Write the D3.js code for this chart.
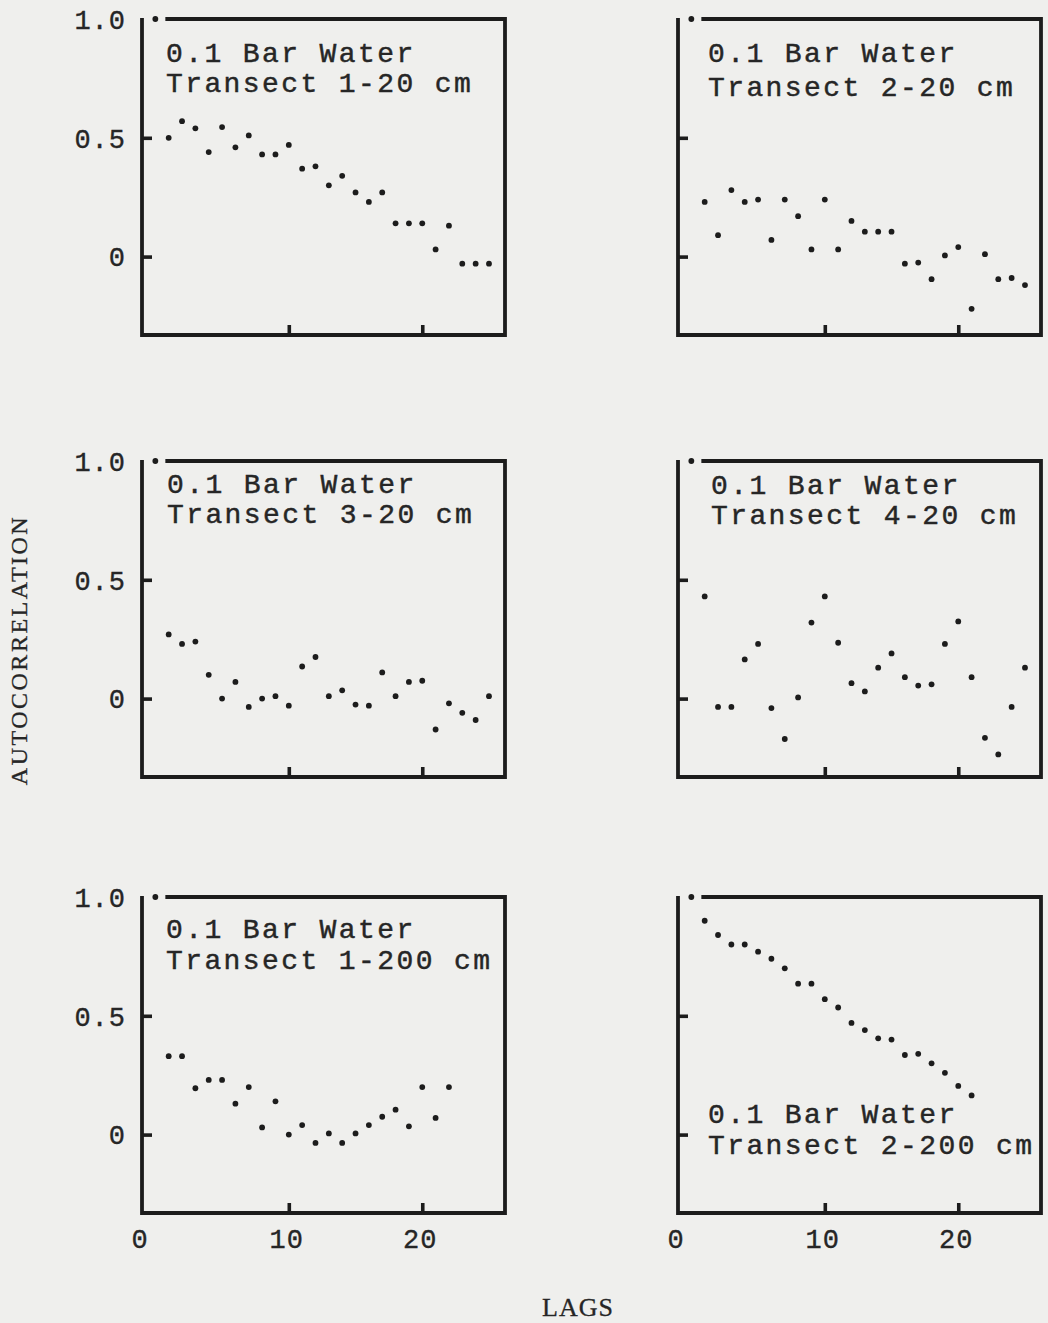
<!DOCTYPE html>
<html>
<head>
<meta charset="utf-8">
<script src="https://cdn.jsdelivr.net/npm/d3@7/dist/d3.min.js"></script>
<style>
  html, body { margin: 0; padding: 0; background: #efefed; }
  svg { display: block; }
  .title { font-family: "Liberation Mono", "DejaVu Sans Mono", monospace; font-size: 28px; letter-spacing: 2.4px; fill: #262626; stroke: #262626; stroke-width: 0.45px; }
  .tick-label { font-family: "Liberation Mono", "DejaVu Sans Mono", monospace; font-size: 27px; letter-spacing: 1px; fill: #262626; stroke: #262626; stroke-width: 0.35px; }
  .axis-title { font-family: "Liberation Serif", "DejaVu Serif", serif; font-size: 24px; letter-spacing: 2.5px; fill: #262626; stroke: #262626; stroke-width: 0.3px; }
</style>
</head>
<body>
<svg id="chart" width="1048" height="1323"></svg>
<script>
// Autocorrelation by lag (lag 0 first) for each 0.1 bar water transect
const lagsTransect1_20 = [1.0, 0.50, 0.57, 0.54, 0.44, 0.545, 0.46, 0.51, 0.43, 0.43, 0.47, 0.37, 0.38, 0.30, 0.34, 0.27, 0.23, 0.27, 0.14, 0.14, 0.14, 0.03, 0.13, -0.03, -0.03, -0.03];
const lagsTransect2_20 = [1.0, 0.23, 0.09, 0.28, 0.23, 0.24, 0.07, 0.24, 0.17, 0.03, 0.24, 0.03, 0.15, 0.105, 0.105, 0.105, -0.03, -0.025, -0.095, 0.005, 0.04, -0.22, 0.01, -0.095, -0.09, -0.12];
const lagsTransect3_20 = [1.0, 0.27, 0.23, 0.24, 0.10, 0.0, 0.07, -0.035, 0.0, 0.01, -0.03, 0.135, 0.175, 0.01, 0.035, -0.025, -0.03, 0.11, 0.01, 0.07, 0.075, -0.13, -0.02, -0.06, -0.09, 0.01];
const lagsTransect4_20 = [1.0, 0.43, -0.035, -0.035, 0.165, 0.23, -0.04, -0.17, 0.005, 0.32, 0.43, 0.235, 0.065, 0.03, 0.13, 0.19, 0.09, 0.055, 0.06, 0.23, 0.325, 0.09, -0.165, -0.235, -0.035, 0.13];
const lagsTransect1_200 = [1.0, 0.33, 0.33, 0.195, 0.23, 0.23, 0.13, 0.20, 0.03, 0.14, 0.0, 0.04, -0.035, 0.005, -0.035, 0.005, 0.04, 0.075, 0.105, 0.035, 0.20, 0.07, 0.20];
const lagsTransect2_200 = [1.0, 0.90, 0.84, 0.80, 0.80, 0.77, 0.74, 0.70, 0.635, 0.635, 0.57, 0.535, 0.47, 0.44, 0.405, 0.40, 0.335, 0.34, 0.30, 0.26, 0.205, 0.165];

const panelTitles = [
  ["0.1 Bar Water", "Transect 1-20 cm"],
  ["0.1 Bar Water", "Transect 2-20 cm"],
  ["0.1 Bar Water", "Transect 3-20 cm"],
  ["0.1 Bar Water", "Transect 4-20 cm"],
  ["0.1 Bar Water", "Transect 1-200 cm"],
  ["0.1 Bar Water", "Transect 2-200 cm"]
];
const panelSeries = [lagsTransect1_20, lagsTransect2_20, lagsTransect3_20, lagsTransect4_20, lagsTransect1_200, lagsTransect2_200];

const yTickValues = [0, 0.5];
const yLabelValues = [0, 0.5, 1.0];
const xTickValues = [10, 20];
const xLabelValues = [0, 10, 20];
const yAxisTitle = "AUTOCORRELATION";
const xAxisTitle = "LAGS";

// Layout: two columns by three rows of framed panels
const colLeft = [142, 678];
const rowTop = [19, 461, 897];
const panelW = 363, panelH = 316;
// title text offsets inside each frame: [dx, baseline1, baseline2]
const titlePos = [
  [24, 43, 73], [30, 43, 77],
  [25, 32, 62], [33, 33, 63],
  [24, 41, 72], [30, 226, 257]
];

const svg = d3.select("#chart");
const ink = "#1c1c1c";

panelSeries.forEach((vals, i) => {
  const col = i % 2, row = Math.floor(i / 2);
  const left = colLeft[col], top = rowTop[row];
  const x = d3.scaleLinear().domain([-1, 26.2]).range([left, left + panelW]);
  const y = d3.scaleLinear().domain([-0.33, 1.0]).range([top + panelH, top]);
  const g = svg.append("g");

  // frame: the top edge leaves a gap for the lag-0 point
  const right = left + panelW, bottom = top + panelH;
  g.append("path")
    .attr("d", `M${x(0.75)},${top}H${right}V${bottom}H${left}V${top - 1}`)
    .attr("fill", "none").attr("stroke", ink).attr("stroke-width", 3.8)
    .attr("stroke-linejoin", "miter");

  // inward y ticks
  const yAx = g.append("g").attr("transform", `translate(${left},0)`)
    .call(d3.axisLeft(y).tickValues(yTickValues).tickSize(-10).tickFormat(""));
  yAx.select(".domain").remove();
  yAx.selectAll("line").attr("stroke", ink).attr("stroke-width", 3.6);

  // inward x ticks
  const xAx = g.append("g").attr("transform", `translate(0,${bottom})`)
    .call(d3.axisBottom(x).tickValues(xTickValues).tickSize(-10).tickFormat(""));
  xAx.select(".domain").remove();
  xAx.selectAll("line").attr("stroke", ink).attr("stroke-width", 3.6);

  // y labels on the left column
  if (col === 0) {
    g.selectAll(".ylab").data(yLabelValues).join("text")
      .attr("class", "tick-label")
      .attr("x", left - 16)
      .attr("y", d => y(d))
      .attr("dy", "0.36em")
      .attr("text-anchor", "end")
      .text(d => d === 0 ? "0" : d3.format(".1f")(d));
  }

  // x labels under the bottom row; "0" sits at the frame corner
  if (row === 2) {
    g.selectAll(".xlab").data(xLabelValues).join("text")
      .attr("class", "tick-label")
      .attr("x", d => (d === 0 ? x.range()[0] - 2 : x(d) - 2))
      .attr("y", bottom + 35)
      .attr("text-anchor", "middle")
      .text(d => d);
  }

  // autocorrelation points
  g.selectAll("circle").data(vals).join("circle")
    .attr("cx", (d, k) => x(k))
    .attr("cy", d => y(d))
    .attr("r", 2.9)
    .attr("fill", ink);

  // panel title
  const tp = titlePos[i];
  panelTitles[i].forEach((line, j) => {
    g.append("text").attr("class", "title")
      .attr("x", left + tp[0])
      .attr("y", top + tp[1 + j])
      .text(line);
  });
});

svg.append("text").attr("class", "axis-title")
  .attr("transform", "translate(27,650) rotate(-90)")
  .attr("text-anchor", "middle")
  .text(yAxisTitle);

svg.append("text").attr("class", "axis-title")
  .attr("x", 578).attr("y", 1316)
  .attr("text-anchor", "middle")
  .attr("style", "letter-spacing:1px; font-size:26px")
  .text(xAxisTitle);
</script>
</body>
</html>
